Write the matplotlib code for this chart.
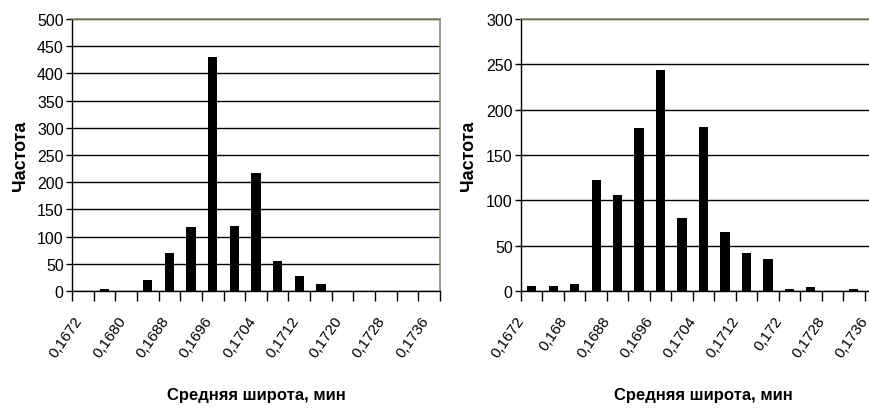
import matplotlib
matplotlib.use("Agg")
import matplotlib.pyplot as plt
import matplotlib.transforms as mtransforms
import numpy as np

plt.rcParams['font.family'] = ['Liberation Sans', 'DejaVu Sans']

# histogram bins (17 classes), labels shown on every second class
tick_labels_left = ["0,1672", "0,1680", "0,1688", "0,1696", "0,1704",
                    "0,1712", "0,1720", "0,1728", "0,1736"]
tick_labels_right = ["0,1672", "0,168", "0,1688", "0,1696", "0,1704",
                     "0,1712", "0,172", "0,1728", "0,1736"]

freq_left = [0, 4, 0, 21, 69, 117, 431, 120, 217, 55, 28, 13, 0, 0, 0, 0, 0]
freq_right = [5, 5, 8, 122, 106, 180, 244, 81, 181, 65, 42, 35, 2, 4, 0, 2, 0]

ylim_left = 500
ylim_right = 300

W, H = 870, 410
fig = plt.figure(figsize=(W / 100, H / 100), dpi=100)

frame_col = "#8a8a76"
top = 20
bottom = 292


def draw(ax_rect, freq, labels, ymax, ylabel_x, shift):
    ax = fig.add_axes(ax_rect)
    n = len(freq)
    x = np.arange(n)
    ax.bar(x, freq, width=0.43, color="black", zorder=3)
    ax.set_xlim(-0.5, n - 0.5)
    ax.set_ylim(0, ymax)
    ax.set_yticks(np.arange(0, ymax + 1, 50))
    ax.yaxis.grid(True, color="black", lw=1.0, zorder=1)
    ax.set_axisbelow(True)

    # class boundaries get tick marks, every second class gets a label
    ax.set_xticks(np.arange(-0.5, n, 1.0))
    ax.set_xticklabels([])
    ax.tick_params(axis="x", length=7, width=1, color="black")
    ax.tick_params(axis="y", length=4, width=1, labelsize=11.5, pad=2)

    # labels sit a little left of the class centre, like Excel does
    off = mtransforms.ScaledTranslation(-shift / 100, -22 / 100,
                                        fig.dpi_scale_trans)
    trans = ax.get_xaxis_transform() + off
    for xi, lab in zip(x[::2], labels):
        ax.text(xi, 0, lab, transform=trans, rotation=55, ha="right",
                va="top", rotation_mode="anchor", fontsize=11,
                clip_on=False)

    for s in ("top", "right"):
        ax.spines[s].set_color(frame_col)
        ax.spines[s].set_linewidth(1.2)
    for s in ("left", "bottom"):
        ax.spines[s].set_color("black")
        ax.spines[s].set_linewidth(1.0)

    ax.set_xlabel("Средняя широта, мин", fontsize=12, fontweight="bold")
    ax.xaxis.set_label_coords(0.5, (bottom - 388) / (bottom - top))
    ax.set_ylabel("Частота", fontsize=13, fontweight="bold")
    ax.yaxis.set_label_coords(ylabel_x, 0.5)
    return ax


draw([72 / W, 1 - bottom / H, 368 / W, (bottom - top) / H],
     freq_left, tick_labels_left, ylim_left, (29 - 72) / 368, 9)
draw([521 / W, 1 - bottom / H, 365 / W, (bottom - top) / H],
     freq_right, tick_labels_right, ylim_right, (477 - 521) / 365, 16)

fig.savefig("out.png", dpi=100)
